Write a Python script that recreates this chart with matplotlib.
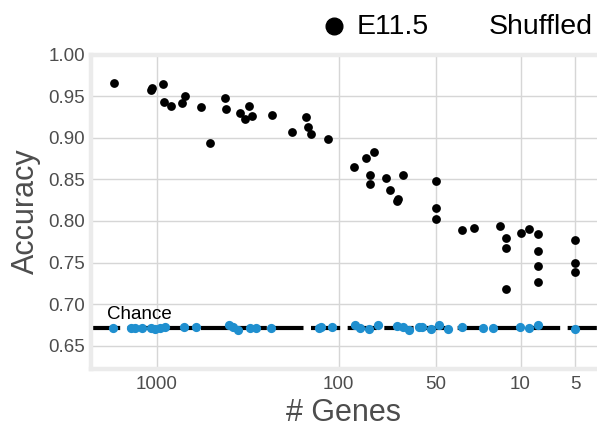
import matplotlib
matplotlib.use("Agg")
import matplotlib.pyplot as plt
from matplotlib.lines import Line2D

plt.rcParams['font.family'] = ['Liberation Sans', 'DejaVu Sans']

# ---- data ----
e11_genes = [1706, 1072, 1054, 921, 910, 832, 721, 700, 568, 506, 422, 413, 349, 327,
             311, 298, 231, 179, 150, 147, 142, 114, 82, 71, 64, 67, 67, 55, 52, 47.9,
             46.9, 44.3, 29.1, 29.1, 29.1, 20.9, 18, 13, 12, 12, 12, 10, 9, 8, 8, 8, 8,
             5, 5, 5]
e11_acc = [0.9665, 0.958, 0.9605, 0.9644, 0.9432, 0.938, 0.9424, 0.950, 0.9371, 0.8944,
           0.948, 0.9344, 0.9296, 0.9227, 0.9383, 0.926, 0.9275, 0.9071, 0.9251, 0.9136,
           0.9043, 0.8983, 0.8647, 0.8764, 0.8833, 0.8554, 0.8446, 0.8515, 0.8371, 0.8235,
           0.8262, 0.8556, 0.8482, 0.8151, 0.8019, 0.7894, 0.7911, 0.7935, 0.7797, 0.7670,
           0.7178, 0.7850, 0.7909, 0.7838, 0.7637, 0.7462, 0.7270, 0.7770, 0.7490, 0.7389]

shuf_genes = [1726, 1380, 1313, 1202, 1076, 1016, 957, 895, 703, 607, 400, 379, 358, 308,
              285, 236, 128, 125, 108, 81, 76, 68, 61, 47.9, 44.4, 41.1, 36, 34.9, 31,
              27.9, 25, 20.9, 16.1, 14.1, 10.1, 9, 8, 5]
shuf_acc = [0.6709, 0.6716, 0.6713, 0.6716, 0.6716, 0.6704, 0.6709, 0.6718, 0.6722,
            0.6722, 0.6746, 0.6722, 0.6686, 0.6716, 0.6713, 0.6713, 0.6713, 0.6718,
            0.6722, 0.6746, 0.6716, 0.6701, 0.6746, 0.6730, 0.6725, 0.6686, 0.6725,
            0.6725, 0.6701, 0.6746, 0.6704, 0.6725, 0.6713, 0.6713, 0.6722, 0.6716,
            0.6746, 0.6704]

chance_level = 0.6716
x_tick_pos = [1000, 100, 29.1, 10, 5]
x_tick_labels = ["1000", "100", "50", "10", "5"]
y_ticks = [0.65, 0.70, 0.75, 0.80, 0.85, 0.90, 0.95, 1.00]

W, H = 597, 432
fig = plt.figure(figsize=(W / 100, H / 100), dpi=100)
left, right, top, bottom = 90.5, 597, 54.5, 368.7
ax = fig.add_axes([left / W, 1 - bottom / H, (right - left) / W, (bottom - top) / H])

ax.set_xscale('log')
ax.set_xlim(2305, 3.80)
ax.set_ylim(0.6222, 1.0004)

ax.grid(True, which='major', color='#D6D6D6', linewidth=1.0)
ax.set_axisbelow(True)
ax.minorticks_off()
ax.set_xticks(x_tick_pos)
ax.set_xticklabels(x_tick_labels)
ax.set_yticks(y_ticks)
ax.set_yticklabels([f"{v:.2f}" for v in y_ticks])
ax.tick_params(axis='both', length=0, labelsize=13.5, labelcolor='#4D4D4D')
ax.tick_params(axis='x', pad=5)
ax.tick_params(axis='y', pad=4)

for side in ['left', 'bottom', 'top']:
    ax.spines[side].set_color('#EBEBEB')
    ax.spines[side].set_linewidth(3.2)
ax.spines['right'].set_visible(False)

ax.axhline(chance_level, color='black', linewidth=3.0, dashes=(7, 1.8), zorder=2)
ax.scatter(shuf_genes, shuf_acc, s=44, color='#1F8FCF', zorder=3, linewidths=0)
ax.scatter(e11_genes, e11_acc, s=40, color='black', zorder=3, linewidths=0)

ax.text(1871, 0.6817, "Chance", fontsize=13.5, color='black', ha='left', va='baseline')

ax.set_xlabel("# Genes", fontsize=22, color='#4D4D4D', labelpad=4)
ax.set_ylabel("Accuracy", fontsize=22, color='#4D4D4D', labelpad=5)

# legend (manual)
fig.add_artist(Line2D([334 / W], [1 - 26 / H], marker='o', markersize=12,
                      color='black', linestyle='none', transform=fig.transFigure))
fig.text(357 / W, 1 - 27 / H, "E11.5", fontsize=20.5, color='black', ha='left', va='center')
fig.text(489 / W, 1 - 27 / H, "Shuffled", fontsize=20.5, color='black', ha='left', va='center')

fig.savefig("out.png", dpi=100)
